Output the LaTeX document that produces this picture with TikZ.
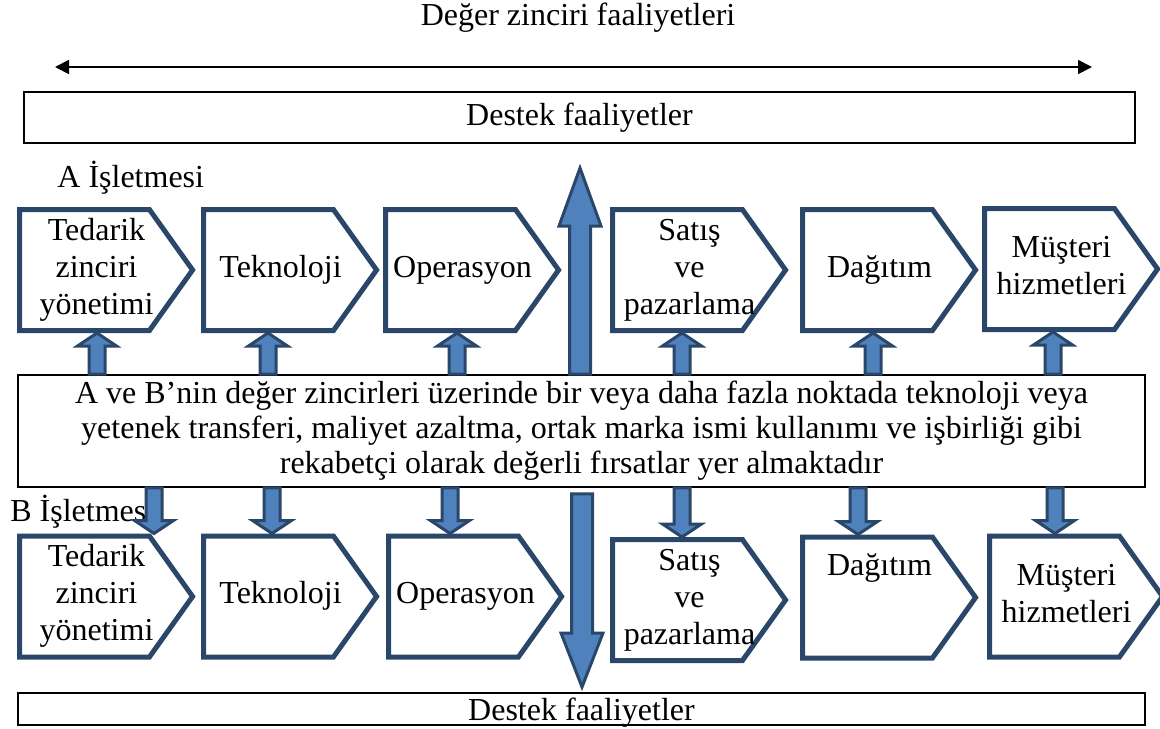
\documentclass[tikz,border=0pt]{standalone}
\usepackage{fontspec}
\setmainfont{Liberation Serif}
\usepackage{xcolor}
\usetikzlibrary{arrows.meta,calc,shapes.symbols}
\definecolor{chaindark}{HTML}{2A4769}
\definecolor{chainfill}{HTML}{4F81BD}
\newcommand\stagetext[1]{\makebox[0pt]{\hspace*{12pt}\begin{tabular}{@{}c@{}}#1\end{tabular}}}

\tikzset{
    lift/.style n args={3}{
        draw=chaindark,
        fill=chainfill,
        line width=1.5pt,
        line join=miter,
        to path={let \p1=(\tikztostart), \p2=(\tikztotarget),
            \n1={2*(\y2>\y1)-1} in
            ({\x1-#1},\y1) -- ({\x1-#1},{\y2-\n1*#3}) -- ({\x1-#2},{\y2-\n1*#3})
            -- (\x1,\y2) -- ({\x1+#2},{\y2-\n1*#3}) -- ({\x1+#1},{\y2-\n1*#3})
            -- ({\x1+#1},\y1) -- cycle}
    }
}

\begin{document}
\begin{tikzpicture}[
        x=0.5pt,y=-0.5pt,
        font=\fontsize{16pt}{18.5pt}\selectfont,
        stage/.style={
            signal,
            signal to=east,
            signal pointer angle=109,
            draw=chaindark,
            line width=2.5pt,
            minimum width=86.5pt,
            minimum height=60.5pt,
            inner sep=1pt,
            fill=white
        },
        panel/.style={draw=black,line width=0.9pt,inner sep=0pt,align=center},
        smalllift/.style={lift={4pt}{9.75pt}{6.5pt}},
        biglift/.style={lift={5.25pt}{10.5pt}{#1}},
        span/.style={{Triangle[length=7pt,width=7pt]}-{Triangle[length=7pt,width=7pt]},line width=0.9pt},
        note/.style={inner sep=0pt}
    ]
        \useasboundingbox (0,0) rectangle (1160,728);

        \node[note] (title) at (578,18) {Değer zinciri faaliyetleri};
        \coordinate (span l) at (55,67);
        \coordinate (span r) at (1092,67);
        \draw[span] (span l) -- (span r);

        \node[panel,minimum width=555.5pt,minimum height=25.5pt] (supa) at (579.5,117.5) {Destek faaliyetler};
        \node[note,anchor=west] (firma) at (57,178) {A İşletmesi};

        % A chain
        \node[stage] (ta1) at (84.5,270) {\stagetext{Tedarik\\zinciri\\yönetimi}};
        \node[stage] (ta2) at (268.5,270) {\stagetext{Teknoloji}};
        \node[stage] (ta3) at (450.5,270) {\stagetext{Operasyon}};
        \node[stage] (ta4) at (677.5,270) {\stagetext{Satış\\ve\\pazarlama}};
        \node[stage] (ta5) at (867.5,270) {\stagetext{Dağıtım}};
        \node[stage] (ta6) at (1049.5,269) {\stagetext{Müşteri\\hizmetleri}};

        \node[panel,minimum width=563.5pt,minimum height=56pt,font=\fontsize{16pt}{17.5pt}\selectfont] (shared) at (581.5,431)
            {A ve B’nin değer zincirleri üzerinde bir veya daha fazla noktada teknoloji veya\\
             yetenek transferi, maliyet azaltma, ortak marka ismi kullanımı ve işbirliği gibi\\
             rekabetçi olarak değerli fırsatlar yer almaktadır};

        \node[note,anchor=west] (firmb) at (10,512) {B İşletmesi};

        % B chain
        \node[stage] (tb1) at (84.5,596.5) {\stagetext{Tedarik\\zinciri\\yönetimi}};
        \node[stage] (tb2) at (268.5,596.5) {\stagetext{Teknoloji}};
        \node[stage] (tb3) at (453.5,596.5) {\stagetext{Operasyon}};
        \node[stage] (tb4) at (677.5,600) {\stagetext{Satış\\ve\\pazarlama}};
        \node[stage,text depth=34pt] (tb5) at (867.5,597.5) {\stagetext{Dağıtım}};
        \node[stage] (tb6) at (1054.5,596.5) {\stagetext{Müşteri\\hizmetleri}};

        \node[panel,minimum width=563.5pt,minimum height=16pt,text height=11pt,text depth=0pt] (supb) at (581.5,709) {Destek faaliyetler};

        % links to the shared box
        \foreach \i/\cx in {1/97,2/268,3/457,4/682,5/873,6/1053} {
            \coordinate (col) at (\cx,0);
            \draw[smalllift] (shared.north -| col) to (ta\i.south -| col);
        }
        \foreach \i/\cx in {1/154,2/272,3/450,4/682,5/858,6/1055} {
            \coordinate (col) at (\cx,0);
            \draw[smalllift] (shared.south -| col) to (tb\i.north -| col);
        }

        \coordinate (peak) at (580,168);
        \coordinate (foot) at (582,687);
        \draw[biglift=29pt] (shared.north -| peak) to (peak);
        \draw[biglift=27pt] ($(shared.south -| foot)+(0,6)$) to (foot);
    \end{tikzpicture}
\end{document}
